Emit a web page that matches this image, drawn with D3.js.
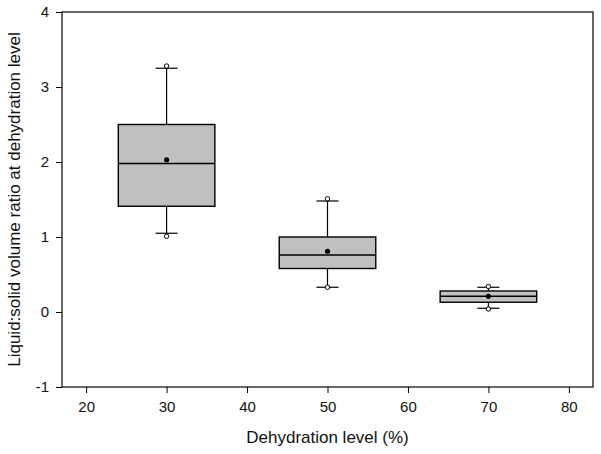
<!DOCTYPE html>
<html><head><meta charset="utf-8">
<script src="https://cdn.jsdelivr.net/npm/d3@7"></script>
<style>body{margin:0;background:#fff}svg{display:block}text{font-family:"Liberation Sans",Arial,sans-serif;fill:#111}</style>
</head><body><div id="chart"></div>
<script>
const groups = [30, 50, 70];
const q1 = [1.41, 0.58, 0.13];
const median = [1.98, 0.76, 0.21];
const q3 = [2.50, 1.00, 0.28];
const whiskerLow = [1.05, 0.33, 0.05];
const whiskerHigh = [3.25, 1.48, 0.33];
const pointMin = [1.01, 0.33, 0.04];
const pointMax = [3.28, 1.51, 0.34];
const mean = [2.03, 0.81, 0.21];
const xTicks = [20, 30, 40, 50, 60, 70, 80];
const yTicks = [-1, 0, 1, 2, 3, 4];

const W = 601, H = 454;
const m = {left: 62, right: 8, top: 12, bottom: 67};
const svg = d3.select("#chart").append("svg").attr("width", W).attr("height", H);
const x = d3.scaleLinear().domain([17, 83]).range([m.left, W - m.right]);
const y = d3.scaleLinear().domain([-1, 4]).range([H - m.bottom, m.top]);

const boxHalf = 6, capHalf = 11;
const fmt = d => String(d);

svg.append("g").attr("transform", `translate(0,${H - m.bottom})`)
  .call(d3.axisBottom(x).tickValues(xTicks).tickFormat(fmt).tickSize(6).tickPadding(8).tickSizeOuter(0))
  .call(g => g.select(".domain").remove())
  .call(g => g.selectAll("text").attr("font-size", 15).style("font-family", '"Liberation Sans",Arial,sans-serif'));
svg.append("g").attr("transform", `translate(${m.left},0)`)
  .call(d3.axisLeft(y).tickValues(yTicks).tickFormat(fmt).tickSize(6).tickPadding(7).tickSizeOuter(0))
  .call(g => g.select(".domain").remove())
  .call(g => g.selectAll("text").attr("font-size", 15).style("font-family", '"Liberation Sans",Arial,sans-serif'));

svg.append("rect").attr("x", m.left).attr("y", m.top)
  .attr("width", W - m.right - m.left).attr("height", H - m.bottom - m.top)
  .attr("fill", "none").attr("stroke", "#000").attr("stroke-width", 1.2);

const data = groups.map((g, i) => ({g, q1: q1[i], med: median[i], q3: q3[i], wl: whiskerLow[i], wh: whiskerHigh[i], pmin: pointMin[i], pmax: pointMax[i], mean: mean[i]}));
const b = svg.append("g").selectAll("g").data(data).join("g");
b.append("line").attr("x1", d => x(d.g)).attr("x2", d => x(d.g)).attr("y1", d => y(d.q3)).attr("y2", d => y(d.wh)).attr("stroke", "#000").attr("stroke-width", 1.2);
b.append("line").attr("x1", d => x(d.g)).attr("x2", d => x(d.g)).attr("y1", d => y(d.q1)).attr("y2", d => y(d.wl)).attr("stroke", "#000").attr("stroke-width", 1.2);
b.append("line").attr("x1", d => x(d.g) - capHalf).attr("x2", d => x(d.g) + capHalf).attr("y1", d => y(d.wh)).attr("y2", d => y(d.wh)).attr("stroke", "#000").attr("stroke-width", 1.2);
b.append("line").attr("x1", d => x(d.g) - capHalf).attr("x2", d => x(d.g) + capHalf).attr("y1", d => y(d.wl)).attr("y2", d => y(d.wl)).attr("stroke", "#000").attr("stroke-width", 1.2);
b.append("rect").attr("x", d => x(d.g - boxHalf)).attr("width", d => x(d.g + boxHalf) - x(d.g - boxHalf))
  .attr("y", d => y(d.q3)).attr("height", d => y(d.q1) - y(d.q3))
  .attr("fill", "#c0c0c0").attr("stroke", "#000").attr("stroke-width", 1.4);
b.append("line").attr("x1", d => x(d.g - boxHalf)).attr("x2", d => x(d.g + boxHalf)).attr("y1", d => y(d.med)).attr("y2", d => y(d.med)).attr("stroke", "#000").attr("stroke-width", 1.4);
b.append("circle").attr("cx", d => x(d.g)).attr("cy", d => y(d.pmax)).attr("r", 2.2).attr("fill", "#fff").attr("stroke", "#000").attr("stroke-width", 1);
b.append("circle").attr("cx", d => x(d.g)).attr("cy", d => y(d.pmin)).attr("r", 2.2).attr("fill", "#fff").attr("stroke", "#000").attr("stroke-width", 1);
b.append("circle").attr("cx", d => x(d.g)).attr("cy", d => y(d.mean)).attr("r", 2.6).attr("fill", "#000");

svg.append("text").attr("x", (m.left + W - m.right) / 2).attr("y", 443).attr("text-anchor", "middle").attr("font-size", 17).text("Dehydration level (%)");
svg.append("text").attr("transform", `translate(20,${(m.top + H - m.bottom) / 2}) rotate(-90)`).attr("text-anchor", "middle").attr("font-size", 17).text("Liquid:solid volume ratio at dehydration level");
</script></body></html>
